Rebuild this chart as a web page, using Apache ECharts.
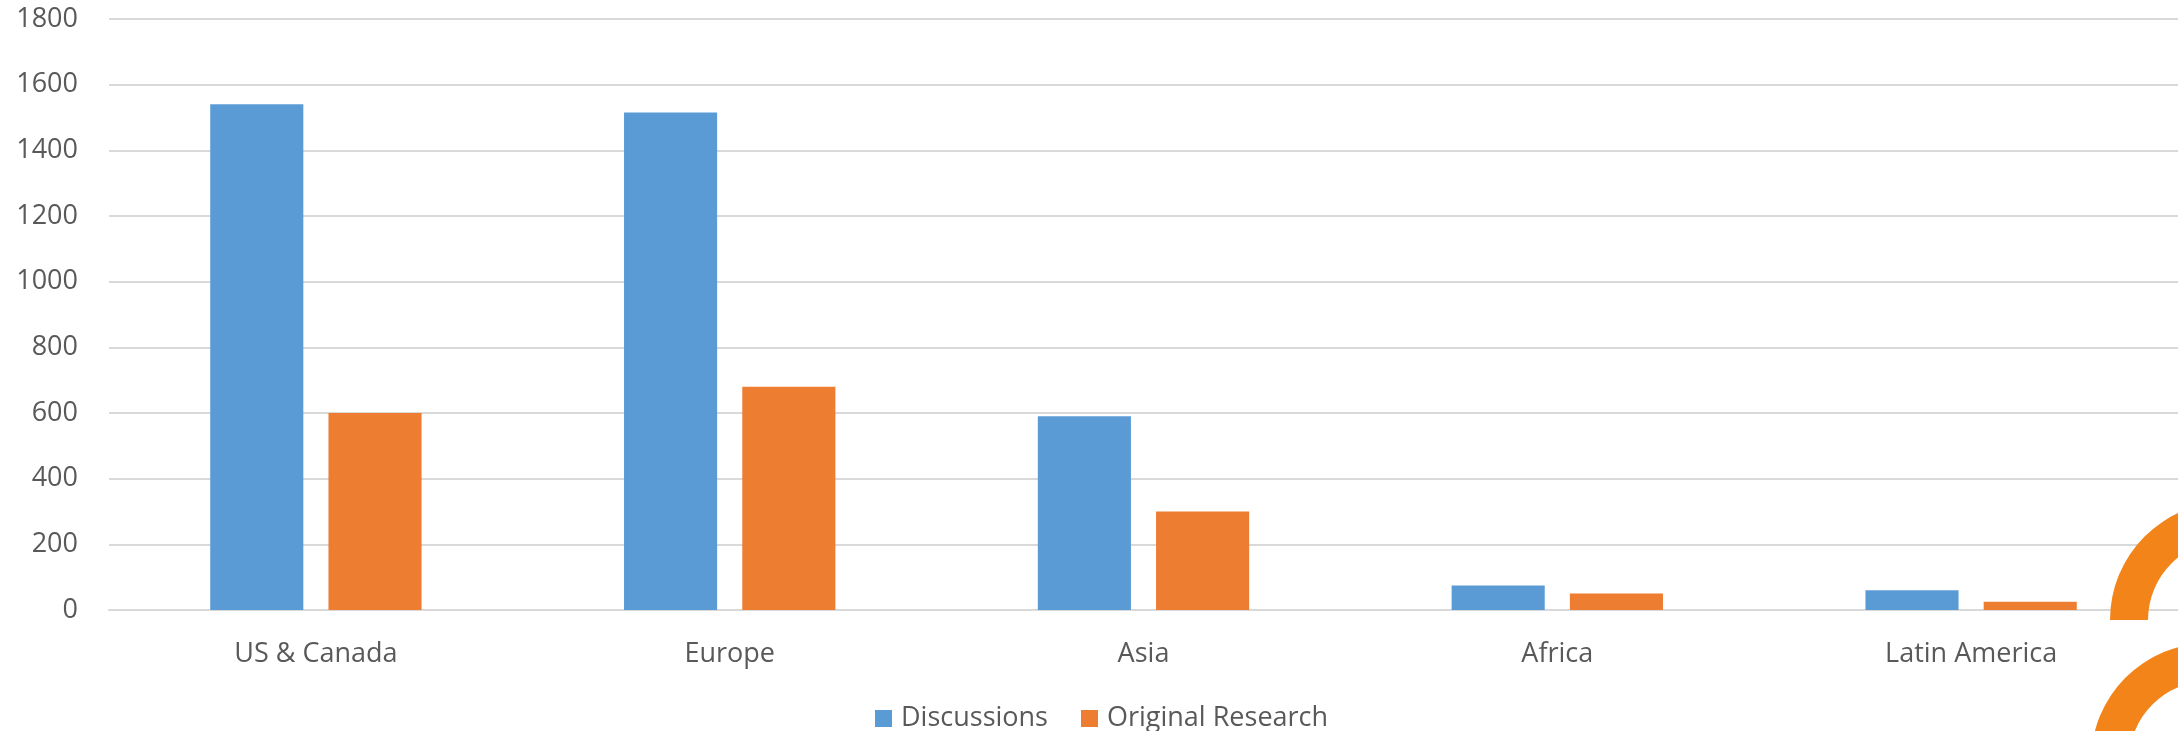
<!DOCTYPE html>
<html>
<head>
<meta charset="utf-8">
<script src="https://cdn.jsdelivr.net/npm/echarts@6/dist/echarts.min.js"></script>
<style>
  html, body { margin: 0; padding: 0; background: #fff; }
  #chart { width: 2178px; height: 731px; }
</style>
</head>
<body>
<div id="chart"></div>
<script>
// regions on the x axis
let regions = ['US & Canada', 'Europe', 'Asia', 'Africa', 'Latin America'];
let series_names = ['Discussions', 'Original Research'];
let discussions = [1540, 1515, 590, 75, 60];
let original_research = [600, 680, 300, 50, 25];
let y_ticks = [0, 1800, 200]; // min, max, interval

let text_color = '#595959';
let grid_color = '#D9D9D9';
let font = "'Open Sans', 'Noto Sans', sans-serif";

let myChart = echarts.init(document.getElementById('chart'));
let option = {
    animation: false,
    textStyle: { fontFamily: font },
    grid: {
        left: 109,
        right: 0,
        top: 19,
        bottom: 121,
        containLabel: false
    },
    legend: {
        data: series_names,
        left: 870,
        top: 700,
        itemWidth: 17,
        itemHeight: 17,
        itemGap: 33,
        icon: 'rect',
        textStyle: {
            color: text_color,
            fontSize: 27,
            fontFamily: font,
            padding: [0, 0, 0, 4]
        }
    },
    xAxis: {
        type: 'category',
        data: regions,
        axisTick: { show: false },
        axisLine: { show: true, lineStyle: { color: grid_color, width: 2 } },
        axisLabel: {
            color: text_color,
            fontSize: 27,
            fontFamily: font,
            margin: 31,
            interval: 0
        }
    },
    yAxis: {
        type: 'value',
        min: y_ticks[0],
        max: y_ticks[1],
        interval: y_ticks[2],
        axisLine: { show: false },
        axisTick: { show: false },
        splitLine: { lineStyle: { color: grid_color, width: 2 } },
        axisLabel: {
            color: text_color,
            fontSize: 27,
            fontFamily: font,
            margin: 31,
            formatter: function (v) { return String(v); }
        }
    },
    series: [
        {
            name: series_names[0],
            type: 'bar',
            data: discussions,
            barWidth: '22.5%',
            barGap: '27%',
            itemStyle: { color: '#5B9BD5' }
        },
        {
            name: series_names[1],
            type: 'bar',
            data: original_research,
            barWidth: '22.5%',
            barGap: '27%',
            itemStyle: { color: '#ED7D31' }
        }
    ],
    // orange logo arcs cut off at the right edge
    graphic: [
        {
            type: 'sector',
            shape: { cx: 2228, cy: 620, r: 118, r0: 80, startAngle: Math.PI, endAngle: 2 * Math.PI, clockwise: true },
            style: { fill: '#F3841A' },
            z: 100
        },
        {
            type: 'sector',
            shape: { cx: 2209, cy: 761, r: 118, r0: 80, startAngle: Math.PI, endAngle: 2 * Math.PI, clockwise: true },
            style: { fill: '#F3841A' },
            z: 100
        }
    ]
};

myChart.setOption(option);
</script>
</body>
</html>
